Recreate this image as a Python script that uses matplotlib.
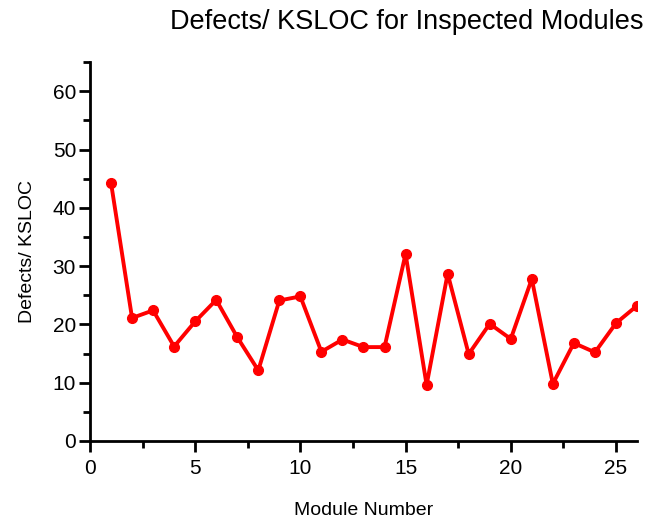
import matplotlib
matplotlib.use("Agg")
import matplotlib.pyplot as plt
from matplotlib.ticker import MultipleLocator

plt.rcParams['font.family'] = ['Liberation Sans', 'DejaVu Sans']

modules = list(range(1, 27))
defects_per_ksloc = [44.3, 21.1, 22.4, 16.2, 20.5, 24.2, 17.8, 12.1, 24.1, 24.8,
                     15.3, 17.4, 16.1, 16.1, 32.1, 9.6, 28.7, 14.9, 20.1, 17.5,
                     27.8, 9.8, 16.8, 15.2, 20.2, 23.2]

fig = plt.figure(figsize=(6.52, 5.23), dpi=100)
ax = fig.add_axes([0.138, 0.157, 0.839, 0.724])

ax.plot(modules, defects_per_ksloc, color='#ff0000', linewidth=2.8,
        marker='o', markersize=7, solid_joinstyle='round')

ax.set_xlim(0, 26)
ax.set_ylim(0, 65)
ax.xaxis.set_major_locator(MultipleLocator(5))
ax.xaxis.set_minor_locator(MultipleLocator(2.5))
ax.yaxis.set_major_locator(MultipleLocator(10))
ax.yaxis.set_minor_locator(MultipleLocator(5))

for side in ('top', 'right'):
    ax.spines[side].set_visible(False)
for side in ('left', 'bottom'):
    ax.spines[side].set_linewidth(2)
    ax.spines[side].set_color('black')

ax.tick_params(which='major', direction='out', length=8, width=2, labelsize=15, pad=2)
ax.tick_params(axis='x', which='major', pad=5)
ax.tick_params(which='minor', direction='out', length=5, width=2)

ax.set_xlabel('Module Number', fontsize=14, labelpad=17)
ax.set_ylabel('Defects/ KSLOC', fontsize=14, labelpad=12)
fig.text(0.624, 0.958, 'Defects/ KSLOC for Inspected Modules', fontsize=19.5,
         ha='center', va='center')

fig.savefig('out.png', dpi=100)
